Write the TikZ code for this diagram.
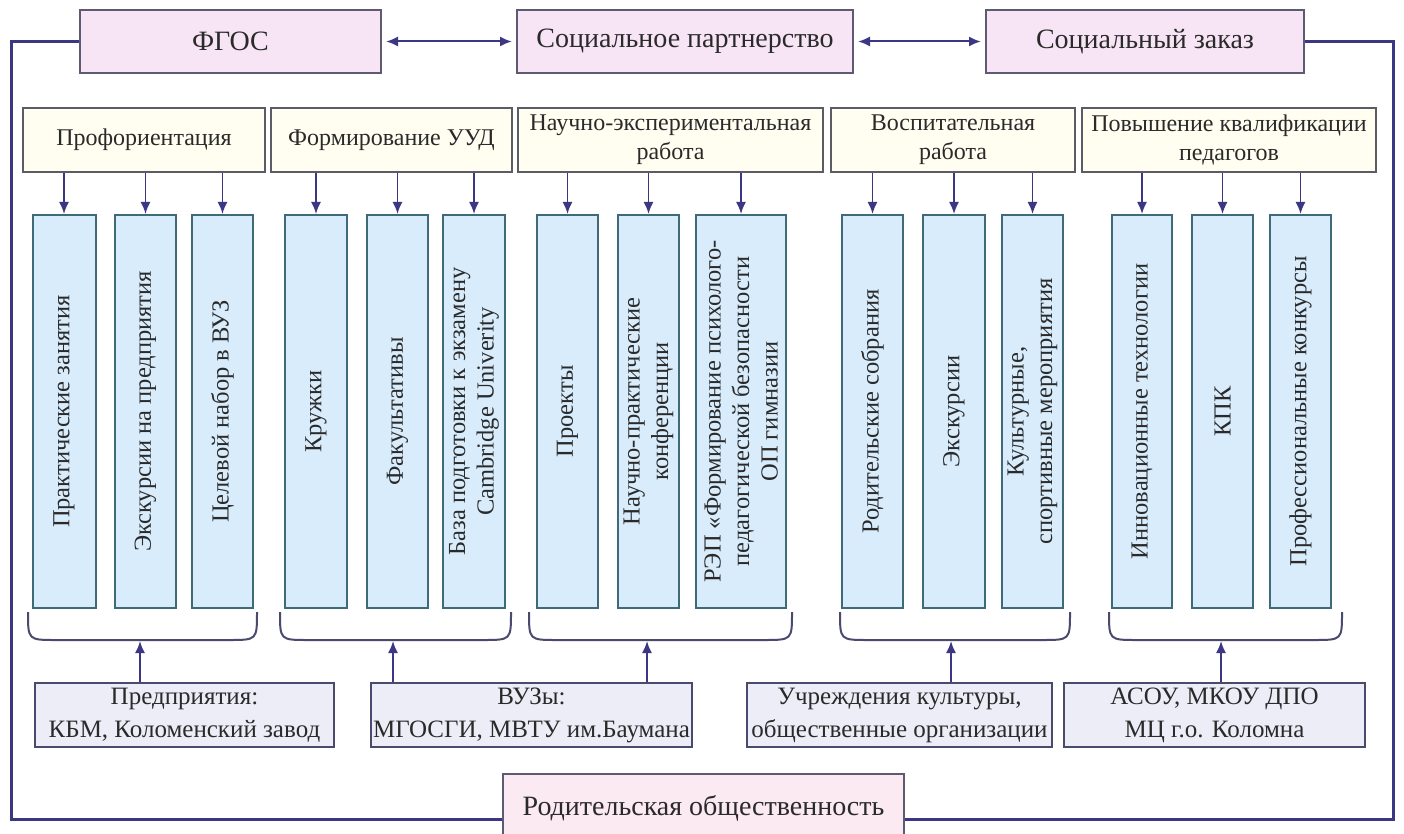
\documentclass[tikz,border=0pt]{standalone}
\usepackage{fontspec}
\setmainfont{Liberation Serif}
\usetikzlibrary{arrows.meta,calc}
\definecolor{linec}{HTML}{3B3782}
\definecolor{topfill}{HTML}{F7E4F5}
\definecolor{topdraw}{HTML}{5E5A72}
\definecolor{hdrfill}{HTML}{FFFEF1}
\definecolor{hdrdraw}{HTML}{5C5C66}
\definecolor{vfill}{HTML}{D8ECFC}
\definecolor{vdraw}{HTML}{3F6A78}
\definecolor{botfill}{HTML}{EDEDF8}
\definecolor{botdraw}{HTML}{4A4A6E}
\definecolor{rodfill}{HTML}{FCEAF2}
\definecolor{txt}{HTML}{2A2A2A}
\begin{document}
\begin{tikzpicture}[x=1pt,y=-1pt,
  topbox/.style={draw=topdraw,fill=topfill,line width=2pt,minimum height=63pt,inner sep=0pt,font=\fontsize{28}{32}\selectfont,text=txt},
  hdrbox/.style={draw=hdrdraw,fill=hdrfill,line width=2pt,minimum height=64pt,inner sep=0pt,align=center,font=\fontsize{24}{29}\selectfont,text=txt},
  vbox/.style={draw=vdraw,fill=vfill,line width=2pt,rotate=90,minimum width=393pt,inner sep=0pt,align=center,font=\fontsize{24.5}{28.5}\selectfont,text=txt},
  botbox/.style={draw=botdraw,fill=botfill,line width=2pt,minimum height=64pt,inner sep=0pt,align=center,font=\fontsize{25}{33}\selectfont,text=txt},
  rodbox/.style={draw=topdraw,fill=rodfill,line width=2pt,minimum width=401pt,minimum height=70pt,inner sep=0pt,font=\fontsize{28}{32}\selectfont,text=txt},
  frame/.style={draw=linec,line width=3pt},
  darrow/.style={draw=linec,line width=1.8pt,-{Latex[length=12pt,width=10pt]}},
  biarrow/.style={draw=linec,line width=2pt,{Latex[length=12pt,width=10pt]}-{Latex[length=12pt,width=10pt]},shorten <=4pt,shorten >=4pt},
  bracket/.style={draw=botdraw,line width=2pt}
]
\useasboundingbox (0,0) rectangle (1404,834);
\fill[white] (0,0) rectangle (1404,834);

% top boxes
\node[topbox,minimum width=301pt] (fgos) at (230.5,41.5) {ФГОС};
\node[topbox,minimum width=336pt] (sp) at (685,41.5) {Социальное партнерство};
\node[topbox,minimum width=318pt] (sz) at (1145,41.5) {Социальный заказ};
\draw[biarrow] (fgos.east) -- (sp.west);
\draw[biarrow] (sp.east) -- (sz.west);

% parents box
\node[rodbox,anchor=north] (rod) at (703.5,773) {\raisebox{8pt}{Родительская общественность}};

% frame
\coordinate (fl1) at (11,41.5);
\coordinate (fl2) at (11,819);
\coordinate (fr1) at (1393,41.5);
\coordinate (fr2) at (1393,819);
\draw[frame] (fgos.west) -- (fl1) -- (fl2) -- (fl2 -| rod.west);
\draw[frame] (sz.east) -- (fr1) -- (fr2) -- (fr2 -| rod.east);

% headers
\node[hdrbox,minimum width=242pt] (h1) at (144,140) {Профориентация};
\node[hdrbox,minimum width=241pt] (h2) at (391.5,140) {Формирование УУД};
\node[hdrbox,minimum width=305pt] (h3) at (670.5,140) {Научно-экспериментальная\\работа};
\node[hdrbox,minimum width=244pt] (h4) at (953,140) {Воспитательная\\работа};
\node[hdrbox,minimum width=294pt] (h5) at (1229,140) {Повышение квалификации\\педагогов};

% vertical boxes
\node[vbox,minimum height=63pt] (v1) at (64,411.5) {Практические занятия};
\node[vbox,minimum height=61pt] (v2) at (145.5,411.5) {Экскурсии на предприятия};
\node[vbox,minimum height=61pt] (v3) at (222.5,411.5) {Целевой набор в ВУЗ};
\node[vbox,minimum height=62pt] (v4) at (316,411.5) {Кружки};
\node[vbox,minimum height=61pt] (v5) at (397.5,411.5) {Факультативы};
\node[vbox,minimum height=62pt] (v6) at (474,411.5) {База подготовки к экзамену\\Cambridge Univerity};
\node[vbox,minimum height=61pt] (v7) at (567.5,411.5) {Проекты};
\node[vbox,minimum height=61pt] (v8) at (648.5,411.5) {Научно-практические\\конференции};
\node[vbox,minimum height=90pt] (v9) at (741,411.5) {РЭП «Формирование психолого-\\педагогической безопасности\\ОП гимназии};
\node[vbox,minimum height=61pt] (v10) at (872.5,411.5) {Родительские собрания};
\node[vbox,minimum height=62pt] (v11) at (954,411.5) {Экскурсии};
\node[vbox,minimum height=61pt] (v12) at (1032.5,411.5) {Культурные,\\спортивные мероприятия};
\node[vbox,minimum height=60pt] (v13) at (1142,411.5) {Инновационные технологии};
\node[vbox,minimum height=61pt] (v14) at (1222.5,411.5) {КПК};
\node[vbox,minimum height=61pt] (v15) at (1300.5,411.5) {Профессиональные конкурсы};

% arrows header -> vertical boxes
\foreach \h/\v in {h1/v1,h1/v2,h1/v3,h2/v4,h2/v5,h2/v6,h3/v7,h3/v8,h3/v9,h4/v10,h4/v11,h4/v12,h5/v13,h5/v14,h5/v15}{
  \draw[darrow] (\v.east |- \h.south) -- (\v.east);
}

% brackets
\foreach \a/\b/\t/\n in {28/257/140/1,280/511/393/2,529/792/647/3,840/1070/951/4,1109/1342/1221/5}{
  \draw[bracket] (\a,612) .. controls (\a,640) .. (\a+28,640) -- (\b-28,640) .. controls (\b,640) .. (\b,612);
  \coordinate (t\n) at (\t,641);
}

% bottom boxes
\node[botbox,minimum width=299pt] (b1) at (184.5,715) {Предприятия:\\КБМ, Коломенский завод};
\node[botbox,minimum width=321pt] (b2) at (531.5,715) {ВУЗы:\\МГОСГИ, МВТУ им.Баумана};
\node[botbox,minimum width=305pt] (b3) at (899.5,715) {Учреждения культуры,\\общественные организации};
\node[botbox,minimum width=301pt] (b4) at (1214.5,715) {АСОУ, МКОУ ДПО\\МЦ г.о. Коломна};

\draw[darrow] (b1.north -| t1) -- (t1);
\draw[darrow] (b2.north -| t2) -- (t2);
\draw[darrow] (b2.north -| t3) -- (t3);
\draw[darrow] (b3.north -| t4) -- (t4);
\draw[darrow] (b4.north -| t5) -- (t5);
\end{tikzpicture}
\end{document}
